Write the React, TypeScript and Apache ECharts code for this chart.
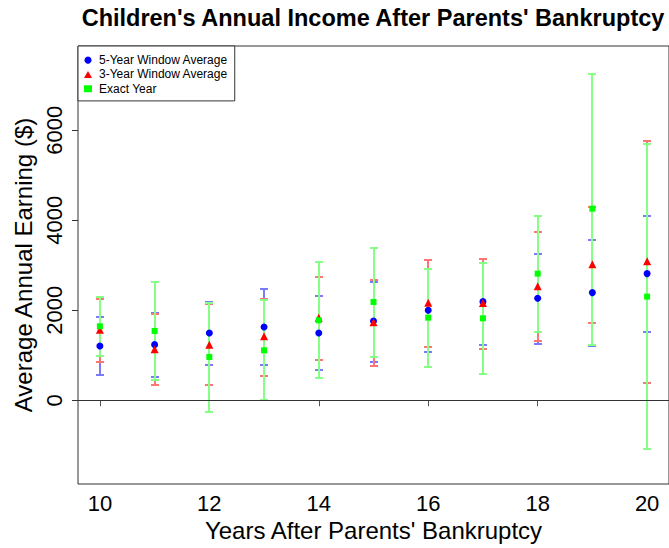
import React, { useEffect, useRef } from "react";
import * as echarts from "echarts";

// Years after the parents' bankruptcy
const years = [10, 11, 12, 13, 14, 15, 16, 17, 18, 19, 20];

// 5-year window average: mean and interval bounds ($)
const fiveYearMean = [1208, 1237, 1496, 1630, 1496, 1763, 2000, 2192, 2267, 2393, 2815];
const fiveYearLow = [555, 526, 793, 778, 667, 859, 1081, 1237, 1259, 1215, 1526];
const fiveYearHigh = [1852, 1948, 2185, 2466, 2311, 2637, 2926, 3140, 3259, 3570, 4104];

// 3-year window average
const threeYearMean = [1570, 1133, 1237, 1422, 1837, 1733, 2170, 2163, 2533, 3022, 3089];
const threeYearLow = [859, 333, 348, 548, 904, 770, 1193, 1148, 1311, 1711, 378];
const threeYearHigh = [2259, 1926, 2148, 2259, 2748, 2681, 3111, 3148, 3748, 4296, 5770];

// Exact year
const exactMean = [1644, 1541, 963, 1111, 1778, 2185, 1837, 1822, 2815, 4259, 2304];
const exactLow = [978, 444, -252, 0, 489, 963, 748, 578, 1526, 1230, -1081];
const exactHigh = [2296, 2622, 2163, 2222, 3074, 3393, 2926, 3059, 4096, 7259, 5689];

const xTicks = [10, 12, 14, 16, 18, 20];
const yTicks = [0, 2000, 4000, 6000];

const FONT = "'Liberation Sans', Arial, Helvetica, sans-serif";

const groups = [
  { name: "5-Year Window Average", color: "#0000ff", barColor: "#7a7aff", symbol: "circle", size: 7, mean: fiveYearMean, low: fiveYearLow, high: fiveYearHigh },
  { name: "3-Year Window Average", color: "#ff0000", barColor: "#ff7474", symbol: "triangle", size: 8, mean: threeYearMean, low: threeYearLow, high: threeYearHigh },
  { name: "Exact Year", color: "#00ff00", barColor: "#86ff86", symbol: "rect", size: 6, mean: exactMean, low: exactLow, high: exactHigh },
];

type Group = (typeof groups)[number];

// Vertical interval bars with short caps, snapped to whole pixels
function errorBarSeries(g: Group) {
  return {
    type: "custom",
    name: g.name,
    z: 2,
    itemStyle: { color: g.color },
    encode: { x: 0, y: [1, 2] },
    data: years.map((yr, i) => [yr, g.low[i], g.high[i]]),
    renderItem: (_params: any, api: any) => {
      const x = api.value(0);
      const lo = api.coord([x, api.value(1)]);
      const hi = api.coord([x, api.value(2)]);
      const cx = Math.round(lo[0]);
      const yLo = Math.round(lo[1]);
      const yHi = Math.round(hi[1]);
      const half = 4;
      const style = { stroke: g.barColor, lineWidth: 2 };
      return {
        type: "group",
        children: [
          { type: "line", shape: { x1: cx, y1: yLo, x2: cx, y2: yHi }, style },
          { type: "line", shape: { x1: cx - half, y1: yLo, x2: cx + half, y2: yLo }, style },
          { type: "line", shape: { x1: cx - half, y1: yHi, x2: cx + half, y2: yHi }, style },
        ],
      };
    },
  };
}

function pointSeries(g: Group, withZeroLine: boolean) {
  const s: any = {
    type: "scatter",
    name: g.name,
    z: 3,
    symbol: g.symbol,
    symbolSize: g.size,
    itemStyle: { color: g.color, opacity: 1 },
    data: years.map((yr, i) => [yr, g.mean[i]]),
  };
  if (withZeroLine) {
    s.markLine = {
      silent: true,
      symbol: "none",
      label: { show: false },
      lineStyle: { color: "#333", type: "solid", width: 1 },
      data: [{ yAxis: 0 }],
    };
  }
  return s;
}

export default function App() {
  const ref = useRef<HTMLDivElement>(null);

  useEffect(() => {
    if (!ref.current) return;
    const chart = echarts.init(ref.current, null, { renderer: "svg" });
    chart.setOption({
      animation: false,
      backgroundColor: "#fff",
      textStyle: { fontFamily: FONT },
      graphic: [
        {
          type: "text",
          x: 373,
          y: 18,
          style: {
            text: "Children's Annual Income After Parents' Bankruptcy",
            fontFamily: FONT,
            fontSize: 23.5,
            fontWeight: "bold",
            fill: "#000",
            textAlign: "center",
            textVerticalAlign: "middle",
          },
        },
      ],
      legend: {
        left: 78,
        top: 46,
        orient: "vertical",
        backgroundColor: "#fff",
        borderColor: "#333",
        borderWidth: 1,
        borderRadius: 0,
        padding: [8, 7, 6, 6],
        itemWidth: 8,
        itemHeight: 7,
        itemGap: 2,
        textStyle: { fontFamily: FONT, fontSize: 12, color: "#000", lineHeight: 12.3, padding: [0, 0, 0, 2] },
        data: groups.map((g) => ({ name: g.name, icon: g.symbol, itemStyle: { color: g.color } })),
      },
      grid: {
        left: 78,
        top: 46,
        width: 595,
        height: 438,
        show: true,
        borderColor: "#333",
        borderWidth: 1,
        backgroundColor: "transparent",
      },
      xAxis: {
        type: "value",
        min: 9.6,
        max: 20.4,
        name: "Years After Parents' Bankruptcy",
        nameLocation: "middle",
        nameGap: 34,
        nameTextStyle: { fontFamily: FONT, fontSize: 24, color: "#000" },
        axisLine: { show: false },
        splitLine: { show: false },
        axisTick: { show: true, length: 6, customValues: xTicks, lineStyle: { color: "#555" } },
        axisLabel: { customValues: xTicks, margin: 8, fontFamily: FONT, fontSize: 22, color: "#000", formatter: (v: number) => String(v) },
      },
      yAxis: {
        type: "value",
        min: -1860,
        max: 7873,
        name: "Average Annual Earning ($)",
        nameLocation: "middle",
        nameGap: 41,
        nameRotate: 90,
        nameTextStyle: { fontFamily: FONT, fontSize: 24, color: "#000" },
        axisLine: { show: false },
        splitLine: { show: false },
        axisTick: { show: true, length: 6, customValues: yTicks, lineStyle: { color: "#333" } },
        axisLabel: { customValues: yTicks, rotate: 90, margin: 13, fontFamily: FONT, fontSize: 22, color: "#000", formatter: (v: number) => String(v) },
      },
      series: [
        ...groups.map((g) => errorBarSeries(g)),
        ...groups.map((g, i) => pointSeries(g, i === 0)),
      ],
    });
    return () => chart.dispose();
  }, []);

  return (
    <div
      ref={ref}
      style={{ position: "fixed", left: 0, top: 0, width: 669, height: 548 }}
    />
  );
}
